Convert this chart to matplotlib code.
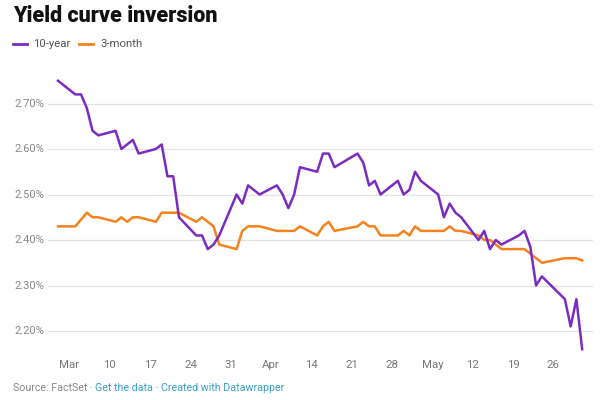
import matplotlib
matplotlib.use("Agg")
import matplotlib.pyplot as plt
import matplotlib.dates as mdates
import pandas as pd

dates = ["2019-03-01","2019-03-04","2019-03-05","2019-03-06","2019-03-07","2019-03-08",
         "2019-03-11","2019-03-12","2019-03-13","2019-03-14","2019-03-15",
         "2019-03-18","2019-03-19","2019-03-20","2019-03-21","2019-03-22",
         "2019-03-25","2019-03-26","2019-03-27","2019-03-28","2019-03-29",
         "2019-04-01","2019-04-02","2019-04-03","2019-04-04","2019-04-05",
         "2019-04-08","2019-04-09","2019-04-10","2019-04-11","2019-04-12",
         "2019-04-15","2019-04-16","2019-04-17","2019-04-18",
         "2019-04-22","2019-04-23","2019-04-24","2019-04-25","2019-04-26",
         "2019-04-29","2019-04-30","2019-05-01","2019-05-02","2019-05-03",
         "2019-05-06","2019-05-07","2019-05-08","2019-05-09","2019-05-10",
         "2019-05-13","2019-05-14","2019-05-15","2019-05-16","2019-05-17",
         "2019-05-20","2019-05-21","2019-05-22","2019-05-23","2019-05-24",
         "2019-05-28","2019-05-29","2019-05-30","2019-05-31"]

ten_year = [2.75,2.72,2.72,2.69,2.64,2.63,
            2.64,2.60,2.61,2.62,2.59,
            2.60,2.61,2.54,2.54,2.45,
            2.41,2.41,2.38,2.39,2.41,
            2.50,2.48,2.52,2.51,2.50,
            2.52,2.50,2.47,2.50,2.56,
            2.55,2.59,2.59,2.56,
            2.59,2.57,2.52,2.53,2.50,
            2.53,2.50,2.51,2.55,2.53,
            2.50,2.45,2.48,2.46,2.45,
            2.40,2.42,2.38,2.40,2.39,
            2.41,2.42,2.385,2.30,2.32,
            2.27,2.21,2.27,2.16]

three_month = [2.43,2.43,2.445,2.46,2.45,2.45,
               2.44,2.45,2.44,2.45,2.45,
               2.44,2.46,2.46,2.46,2.46,
               2.44,2.45,2.44,2.43,2.39,
               2.38,2.42,2.43,2.43,2.43,
               2.42,2.42,2.42,2.42,2.43,
               2.41,2.43,2.44,2.42,
               2.43,2.44,2.43,2.43,2.41,
               2.41,2.42,2.41,2.43,2.42,
               2.42,2.42,2.43,2.42,2.42,
               2.41,2.40,2.40,2.39,2.38,
               2.38,2.38,2.37,2.36,2.35,
               2.36,2.36,2.36,2.355]

tick_dates = ["2019-03-03","2019-03-10","2019-03-17","2019-03-24","2019-03-31",
              "2019-04-07","2019-04-14","2019-04-21","2019-04-28",
              "2019-05-05","2019-05-12","2019-05-19","2019-05-26"]
tick_labels = ["Mar","10","17","24","31","Apr","14","21","28","May","12","19","26"]
y_ticks = [2.20, 2.30, 2.40, 2.50, 2.60, 2.70]

PURPLE = "#7b2cc0"
ORANGE = "#f5821f"
FONT = "Roboto"

x = pd.to_datetime(dates)
xt = pd.to_datetime(tick_dates)

fig = plt.figure(figsize=(6, 4), dpi=100)
fig.patch.set_facecolor("white")
W, H = 600, 400
L, R, T, B = 48, 593, 70, 350
ax = fig.add_axes([L / W, 1 - B / H, (R - L) / W, (B - T) / H])

ax.plot(x, three_month, color=ORANGE, lw=1.8, clip_on=False, solid_joinstyle="round", zorder=3)
ax.plot(x, ten_year, color=PURPLE, lw=1.8, clip_on=False, solid_joinstyle="round", zorder=4)

start = mdates.date2num(pd.Timestamp("2019-03-01"))
ppd = 5.76
x0 = start - (58 - L) / ppd
ax.set_xlim(x0, x0 + (R - L) / ppd)
ytop = 2.70 + (103.5 - T) / 455.0
ybot = 2.70 - (B - 103.5) / 455.0
ax.set_ylim(ybot, ytop)

for s in ax.spines.values():
    s.set_visible(False)
ax.set_yticks(y_ticks)
ax.set_yticklabels([])
ax.tick_params(axis="both", length=0)
ax.grid(axis="y", color="#e3e3e3", lw=0.9)
ax.set_axisbelow(True)
ax.set_xticks(xt)
ax.set_xticklabels(tick_labels, fontsize=8.2, color="#777777", family=FONT)
ax.tick_params(axis="x", pad=7)

for v in y_ticks:
    ax.text(-0.062, v, f"{v:.2f}%", transform=ax.get_yaxis_transform(),
            ha="left", va="center", fontsize=8, color="#888888", family=FONT)

fig.text(13 / W, 1 - 16 / H, "Yield curve inversion", fontsize=15.5, fontweight="heavy",
         family=FONT, color="#111111", ha="left", va="center")

# legend
lw_y = 1 - 44 / H
fig.add_artist(plt.Line2D([13 / W, 27 / W], [lw_y, lw_y], color=PURPLE, lw=2))
fig.text(33 / W, lw_y, "10-year", fontsize=8.2, color="#555555", family=FONT, ha="left", va="center")
fig.add_artist(plt.Line2D([79 / W, 93 / W], [lw_y, lw_y], color=ORANGE, lw=2))
fig.text(100 / W, lw_y, "3-month", fontsize=8.2, color="#555555", family=FONT, ha="left", va="center")

# footer
renderer = fig.canvas.get_renderer()
parts = [("Source: FactSet", "#888888"), (" \u00b7 ", "#888888"), ("Get the data", "#3a9fc8"),
         (" \u00b7 ", "#888888"), ("Created with Datawrapper", "#3a9fc8")]
xpos = 13
for txt, col in parts:
    t = fig.text(xpos / W, 1 - 388 / H, txt, fontsize=7.7, color=col, family=FONT,
                 ha="left", va="center")
    xpos += t.get_window_extent(renderer).width

fig.savefig("out.png", dpi=100, facecolor="white")
